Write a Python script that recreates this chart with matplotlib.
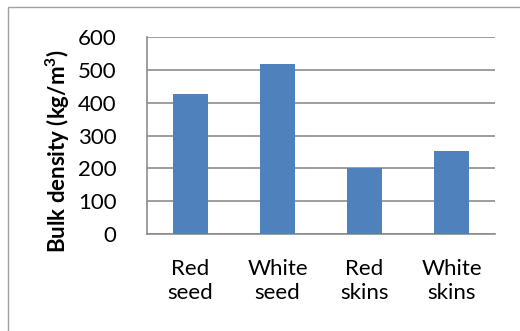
import matplotlib.pyplot as plt
from matplotlib.patches import Rectangle

categories = ["Red\nseed", "White\nseed", "Red\nskins", "White\nskins"]
bulk_density = [427, 519, 200, 253]
yticks = [0, 100, 200, 300, 400, 500, 600]

plt.rcParams['font.family'] = ['Lato', 'DejaVu Sans']

fig = plt.figure(figsize=(5.2, 3.31), dpi=100)
ax = fig.add_axes([147/520, 1 - 234/331, 348/520, 197/331])

x = range(len(categories))
ax.bar(x, bulk_density, width=0.4, color="#4F81BD", zorder=3)

ax.set_xlim(-0.5, len(categories) - 0.5)
ax.set_ylim(0, 600)
ax.set_yticks(yticks)
ax.set_xticks(list(x))
ax.set_xticklabels(categories, fontsize=16, linespacing=1.25)
ax.tick_params(axis='y', labelsize=16, length=0, pad=22)
ax.tick_params(axis='x', length=0, pad=18)

ax.grid(axis='y', color="#8C8C8C", linewidth=1.2, zorder=0)
for side in ['top', 'right']:
    ax.spines[side].set_visible(False)
for side in ['left', 'bottom']:
    ax.spines[side].set_color("#8C8C8C")
    ax.spines[side].set_linewidth(1.2)

ax.set_ylabel("Bulk density (kg/m$^\\mathregular{3}$)", fontsize=16, fontweight='bold')
ax.yaxis.set_label_coords(-0.215, 0.42)

# chart area border
fig.patches.append(Rectangle((8/520, -0.05), 1.1, 1 - 7/331 + 0.05, transform=fig.transFigure,
                             fill=False, edgecolor="#A0A0A0", linewidth=1.0))

fig.savefig("out.png", dpi=100)
